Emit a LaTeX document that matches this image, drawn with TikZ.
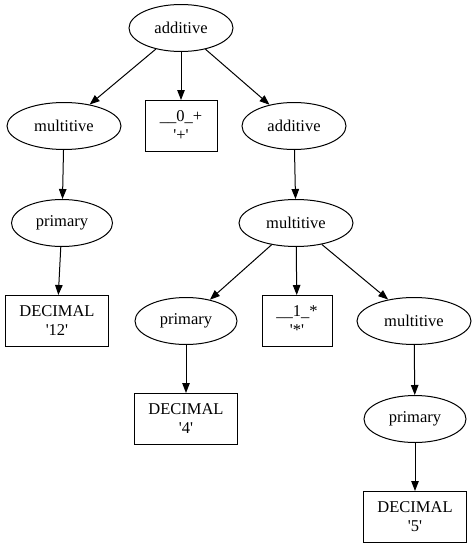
\documentclass[tikz,border=0pt]{standalone}
\usepackage{fontspec}
\setmainfont{Liberation Serif}
\usetikzlibrary{shapes.geometric,arrows.meta}
\newcommand{\sq}{\textquotesingle}
\begin{document}
\begin{tikzpicture}[x=1pt,y=-1pt,
  ell/.style={draw,ellipse,inner sep=0pt,minimum height=47pt,font=\fontsize{16.5}{19}\selectfont,line width=1pt},
  box/.style={draw,rectangle,inner sep=0pt,minimum height=51pt,align=center,font=\fontsize{16.5}{19}\selectfont,line width=1pt},
  edge/.style={-{Triangle[length=10pt,width=7.5pt]},line width=1pt}]
\useasboundingbox (0,0) rectangle (476,549);
\node[ell,minimum width=104pt] (a1) at (181,28) {additive};
\node[ell,minimum width=114pt] (m1) at (64,126) {multitive};
\node[box,minimum width=72pt] (t0) at (181,126) {\_\_0\_+\\\sq+\sq};
\node[ell,minimum width=104pt] (a2) at (294,126) {additive};
\node[ell,minimum width=101pt] (p1) at (62,223) {primary};
\node[box,minimum width=103pt] (d12) at (57,321) {DECIMAL\\\sq12\sq};
\node[ell,minimum width=114pt] (m2) at (296,223) {multitive};
\node[ell,minimum width=102pt] (p2) at (186,321) {primary};
\node[box,minimum width=70pt] (t1) at (297,321) {\_\_1\_*\\\sq*\sq};
\node[ell,minimum width=114pt] (m3) at (414,321) {multitive};
\node[box,minimum width=103pt] (d4) at (186,419) {DECIMAL\\\sq4\sq};
\node[ell,minimum width=102pt] (p3) at (415,419) {primary};
\node[box,minimum width=103pt] (d5) at (415,517) {DECIMAL\\\sq5\sq};
\draw[edge] (a1) -- (m1);
\draw[edge] (a1) -- (t0);
\draw[edge] (a1) -- (a2);
\draw[edge] (m1) -- (p1);
\draw[edge] (p1) -- (d12);
\draw[edge] (a2) -- (m2);
\draw[edge] (m2) -- (p2);
\draw[edge] (m2) -- (t1);
\draw[edge] (m2) -- (m3);
\draw[edge] (p2) -- (d4);
\draw[edge] (m3) -- (p3);
\draw[edge] (p3) -- (d5);
\end{tikzpicture}
\end{document}
